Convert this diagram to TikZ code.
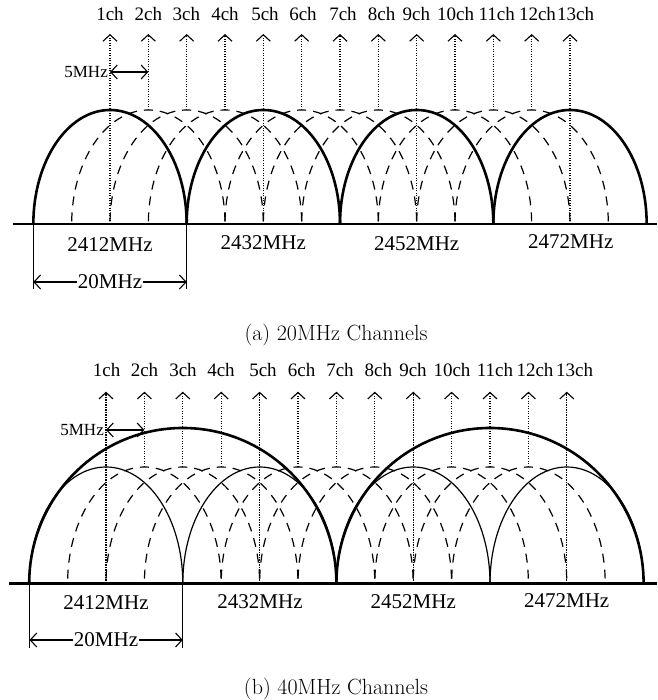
\documentclass[tikz,border=0pt]{standalone}
\usepackage{fontspec}
\newfontfamily\tms{Liberation Serif}
\newfontfamily\lmcap{Latin Modern Roman}
\usetikzlibrary{arrows.meta}
\begin{document}
\begin{tikzpicture}[x=1pt,y=1pt,
  thickarc/.style={line width=2.6pt},
  thinarc/.style={line width=1.2pt},
  dasharc/.style={line width=1.2pt, dash pattern=on 9pt off 7pt, dash phase=4.5pt},
  dotline/.style={line width=1.3pt, dash pattern=on 1.3pt off 1.2pt},
  uptip/.style={-{Straight Barb[length=6.5pt,width=14pt,line width=1.1pt]}},
  dbltip/.style={line width=1.1pt,{Straight Barb[length=6.5pt,width=14pt,line width=1.1pt]}-{Straight Barb[length=6.5pt,width=14pt,line width=1.1pt]}},
  baseline/.style={line width=2.6pt},
  dimline/.style={line width=1.1pt},
  chlabel/.style={font=\tms\fontsize{19}{22}\selectfont, inner sep=0pt},
  mhzlabel/.style={font=\tms\fontsize{21}{24}\selectfont, inner sep=0pt},
  smalllabel/.style={font=\tms\fontsize{17}{20}\selectfont, inner sep=0pt},
  caplabel/.style={font=\lmcap\fontsize{22}{26}\selectfont, inner sep=0pt}
]
\useasboundingbox (0,0) rectangle (657,700);

% ---------------- panel (a) ----------------
\foreach \i in {1,...,13}{
  \pgfmathsetmacro\cx{110+38.3333*(\i-1)}
  \coordinate (a\i) at (\cx,476);
  \coordinate (at\i) at (\cx,590);
  \coordinate (aa\i) at (\cx,666);
}
\coordinate (aL) at (13,476);
\coordinate (aR) at (657,476);

\foreach \i in {2,3,4,6,7,8,10,11,12}{
  \draw[dasharc] (at\i) arc[start angle=90,end angle=180,x radius=76.667pt,y radius=114pt];
  \draw[dasharc] (at\i) arc[start angle=90,end angle=0,x radius=76.667pt,y radius=114pt];
  \draw[dotline,uptip] (at\i) -- (aa\i);
}
\foreach \i in {1,5,9,13}{
  \draw[thickarc] (at\i) arc[start angle=90,end angle=180,x radius=76.667pt,y radius=114pt]
                  (at\i) arc[start angle=90,end angle=0,x radius=76.667pt,y radius=114pt];
  \draw[dotline,uptip] (a\i) -- (aa\i);
}
\draw[baseline] (aL) -- (aR);

\foreach \i/\lx in {1/110,2/148.3,3/186.3,4/225,5/265,6/303,7/343,8/381.7,9/416.3,10/455.7,11/496.7,12/537.5,13/575.7}{
  \node[chlabel] (la\i) at (\lx,686) {\i ch};
}

\coordinate (fa1) at (110,628);
\coordinate (fa2) at (148.333,628);
\draw[dbltip] (fa1) -- (fa2);
\node[smalllabel,anchor=east] (fiveA) at (108,628) {5MHz};

\node[mhzlabel] (ma1) at (110,455) {2412MHz};
\node[mhzlabel] (ma2) at (263.3,457) {2432MHz};
\node[mhzlabel] (ma3) at (416.7,456.7) {2452MHz};
\node[mhzlabel] (ma4) at (570.8,458.3) {2472MHz};

\coordinate (da1) at (33.3,476);
\coordinate (da2) at (186.7,476);
\coordinate (db1) at (33.3,411);
\coordinate (db2) at (186.7,411);
\coordinate (dc1) at (33.3,418);
\coordinate (dc2) at (186.7,418);
\draw[dimline] (da1) -- (db1);
\draw[dimline] (da2) -- (db2);
\node[mhzlabel,inner sep=0.8pt] (twA) at (110,418) {20MHz};
\draw[dimline,uptip] (twA.west) -- (dc1);
\draw[dimline,uptip] (twA.east) -- (dc2);

\node[caplabel] (capA) at (336,365) {(a) 20MHz Channels};

% ---------------- panel (b) ----------------
\foreach \i in {1,...,13}{
  \pgfmathsetmacro\cx{106+38.4*(\i-1)}
  \coordinate (b\i) at (\cx,116.7);
  \coordinate (bt\i) at (\cx,233);
  \coordinate (ba\i) at (\cx,308.3);
}
\coordinate (bL) at (9,116.7);
\coordinate (bR) at (657,116.7);

\foreach \i in {2,3,4,6,7,8,10,11,12}{
  \draw[dasharc] (bt\i) arc[start angle=90,end angle=180,x radius=76.8pt,y radius=116.3pt];
  \draw[dasharc] (bt\i) arc[start angle=90,end angle=0,x radius=76.8pt,y radius=116.3pt];
  \draw[dotline,uptip] (bt\i) -- (ba\i);
}
\foreach \i in {1,5,9,13}{
  \draw[thinarc] (bt\i) arc[start angle=90,end angle=180,x radius=76.8pt,y radius=116.3pt]
                 (bt\i) arc[start angle=90,end angle=0,x radius=76.8pt,y radius=116.3pt];
  \draw[dotline,uptip] (b\i) -- (ba\i);
}
\coordinate (bg1) at (182.8,272);
\coordinate (bg2) at (490,272);
\foreach \g in {bg1,bg2}{
  \draw[thickarc] (\g) arc[start angle=90,end angle=180,x radius=153.6pt,y radius=155.3pt]
                  (\g) arc[start angle=90,end angle=0,x radius=153.6pt,y radius=155.3pt];
}
\draw[baseline] (bL) -- (bR);

\foreach \i/\lx in {1/106.7,2/144.5,3/183,4/221,5/263,6/301.7,7/340,8/378.3,9/413,10/452,11/495,12/535,13/574.7}{
  \node[chlabel] (lb\i) at (\lx,329.5) {\i ch};
}

\coordinate (fb1) at (106,270);
\coordinate (fb2) at (144.4,270);
\draw[dbltip] (fb1) -- (fb2);
\node[smalllabel,anchor=east] (fiveB) at (104,270) {5MHz};

\node[mhzlabel] (mb1) at (106,97) {2412MHz};
\node[mhzlabel] (mb2) at (260,98.3) {2432MHz};
\node[mhzlabel] (mb3) at (413.3,98.3) {2452MHz};
\node[mhzlabel] (mb4) at (566.7,99.3) {2472MHz};

\coordinate (ea1) at (29.5,116.7);
\coordinate (ea2) at (182.8,116.7);
\coordinate (eb1) at (29.5,52);
\coordinate (eb2) at (182.8,52);
\coordinate (ec1) at (29.5,60);
\coordinate (ec2) at (182.8,60);
\draw[dimline] (ea1) -- (eb1);
\draw[dimline] (ea2) -- (eb2);
\node[mhzlabel,inner sep=0.8pt] (twB) at (106,60) {20MHz};
\draw[dimline,uptip] (twB.west) -- (ec1);
\draw[dimline,uptip] (twB.east) -- (ec2);

\node[caplabel] (capB) at (336,11) {(b) 40MHz Channels};
\end{tikzpicture}
\end{document}
